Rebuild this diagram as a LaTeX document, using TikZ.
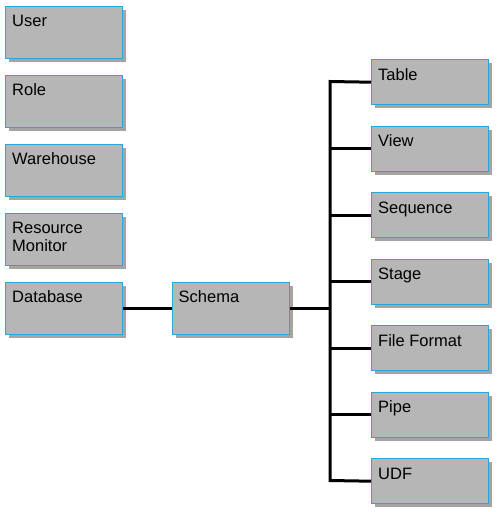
\documentclass[tikz,border=0pt]{standalone}
\usepackage{fontspec}
\setmainfont{Liberation Sans}
\definecolor{boxfill}{HTML}{B6B6B6}
\definecolor{boxedge}{HTML}{2AA6DF}
\definecolor{shadowc}{HTML}{A4A4A4}
\tikzset{
  box/.style={draw=boxedge, line width=1.4pt, fill=boxfill, minimum width=117pt, minimum height=#1, inner sep=0pt, anchor=north west},
  box/.default=52pt,
  shad/.style={fill=shadowc, draw=none},
  txt/.style={anchor=base west, inner sep=0pt, font=\fontsize{16.5}{18}\selectfont},
  conn/.style={line width=3pt, black, line join=miter}
}
\newcommand{\mkbox}[5]{% name, x, y(top), height, text
  \fill[shad] (#2pt+4pt,-#3pt-4pt) rectangle ++(117pt,-#4pt);
  \node[box=#4pt] (#1) at (#2pt,-#3pt) {};
  \node[txt] (#1-t) at ([shift={(7pt,-21pt)}]#1.north west) {\begin{tabular}[t]{@{}l@{}}#5\end{tabular}};
}
\begin{document}
\begin{tikzpicture}[x=1pt,y=1pt]
\useasboundingbox (0,0) rectangle (500,-512);
\mkbox{user}{5}{5.5}{52}{User}
\mkbox{role}{5}{74.5}{52}{Role}
\mkbox{wh}{5}{143.5}{52}{Warehouse}
\mkbox{rm}{5}{212.5}{52}{Resource\\Monitor}
\mkbox{db}{5}{281.5}{52}{Database}
\mkbox{schema}{171.5}{281.5}{52}{Schema}
\mkbox{table}{371}{59}{45}{Table}
\mkbox{view}{371}{125.5}{45}{View}
\mkbox{seq}{371}{192}{45}{Sequence}
\mkbox{stage}{371}{258.5}{45}{Stage}
\mkbox{ff}{371}{325}{45}{File Format}
\mkbox{pipe}{371}{391.5}{45}{Pipe}
\mkbox{udf}{371}{458}{45}{UDF}
\coordinate (bt) at (330,-81.5);
\coordinate (bb) at (330,-480.5);
\draw[conn] (db.east) -- (schema.west);
\draw[conn] (table.west) -- (bt) -- (bb) -- (udf.west);
\foreach \n in {view,seq,stage,ff,pipe} {
  \draw[conn] (\n.west) -- (\n.west -| bt);
}
\draw[conn] (schema.east) -- (schema.east -| bt);
\end{tikzpicture}
\end{document}
